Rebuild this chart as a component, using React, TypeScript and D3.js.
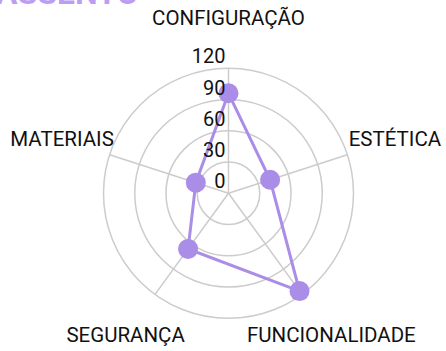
import { useEffect, useRef } from "react";
import * as d3 from "d3";

// data
const categories = ["CONFIGURAÇÃO", "ESTÉTICA", "FUNCIONALIDADE", "SEGURANÇA", "MATERIAIS"];
const values = [96, 42, 116, 66, 33];
const ticks = [0, 30, 60, 90, 120];

const W = 446;
const H = 351;
const purple = "#a98de6";

export default function App() {
	const ref = useRef<SVGSVGElement>(null);

	useEffect(() => {
		const svg = d3.select(ref.current);
		svg.selectAll("*").remove();

		const cx = 228.5;
		const cy = 193.3;
		const r = d3.scaleLinear().domain([0, 120]).range([0, 125]);
		const angle = d3
			.scaleLinear()
			.domain([0, categories.length])
			.range([0, 2 * Math.PI]);

		const pos = (i: number, rad: number): [number, number] => [
			cx + rad * Math.sin(angle(i)),
			cy - rad * Math.cos(angle(i)),
		];

		// clipped title at the very top
		svg
			.append("text")
			.attr("x", -4)
			.attr("y", 4)
			.attr("font-family", "Roboto, sans-serif")
			.attr("font-weight", 700)
			.attr("font-size", 32)
			.attr("fill", "#bb9ef4")
			.text("ASSENTO");

		const g = svg.append("g");

		// rings
		g.selectAll("circle.ring")
			.data(ticks.filter((t) => t > 0))
			.enter()
			.append("circle")
			.attr("class", "ring")
			.attr("cx", cx)
			.attr("cy", cy)
			.attr("r", (d) => r(d))
			.attr("fill", "none")
			.attr("stroke", "#cccccc")
			.attr("stroke-width", 1.5);

		// spokes
		g.selectAll("line.spoke")
			.data(categories)
			.enter()
			.append("line")
			.attr("class", "spoke")
			.attr("x1", cx)
			.attr("y1", cy)
			.attr("x2", (d, i) => pos(i, r(120))[0])
			.attr("y2", (d, i) => pos(i, r(120))[1])
			.attr("stroke", "#cccccc")
			.attr("stroke-width", 1.5);

		// category labels
		g.selectAll("text.cat")
			.data(categories)
			.enter()
			.append("text")
			.attr("class", "cat")
			.attr("x", (d, i) => pos(i, 175)[0])
			.attr("y", (d, i) => pos(i, 175)[1])
			.attr("text-anchor", "middle")
			.attr("dominant-baseline", "central")
			.attr("font-family", "Roboto, sans-serif")
			.attr("font-size", 20.5)
			.attr("fill", "#111")
			.text((d) => d);

		// polygon
		const line = d3
			.line<number>()
			.x((d, i) => pos(i, r(d))[0])
			.y((d, i) => pos(i, r(d))[1])
			.curve(d3.curveLinearClosed);

		g.append("path")
			.attr("d", line(values))
			.attr("fill", "none")
			.attr("stroke", purple)
			.attr("stroke-width", 3);

		g.selectAll("circle.pt")
			.data(values)
			.enter()
			.append("circle")
			.attr("class", "pt")
			.attr("cx", (d, i) => pos(i, r(d))[0])
			.attr("cy", (d, i) => pos(i, r(d))[1])
			.attr("r", 10)
			.attr("fill", purple);

		// tick labels
		g.selectAll("text.tick")
			.data(ticks)
			.enter()
			.append("text")
			.attr("class", "tick")
			.attr("x", cx - 3)
			.attr("y", (d) => cy - r(d) - 5)
			.attr("text-anchor", "end")
			.attr("font-family", "Roboto, sans-serif")
			.attr("font-size", 20)
			.attr("fill", "#111")
			.text((d) => d);
	}, []);

	return (
		<svg
			ref={ref}
			width={W}
			height={H}
			style={{ position: "absolute", left: 0, top: 0, background: "#fff" }}
		/>
	);
}
